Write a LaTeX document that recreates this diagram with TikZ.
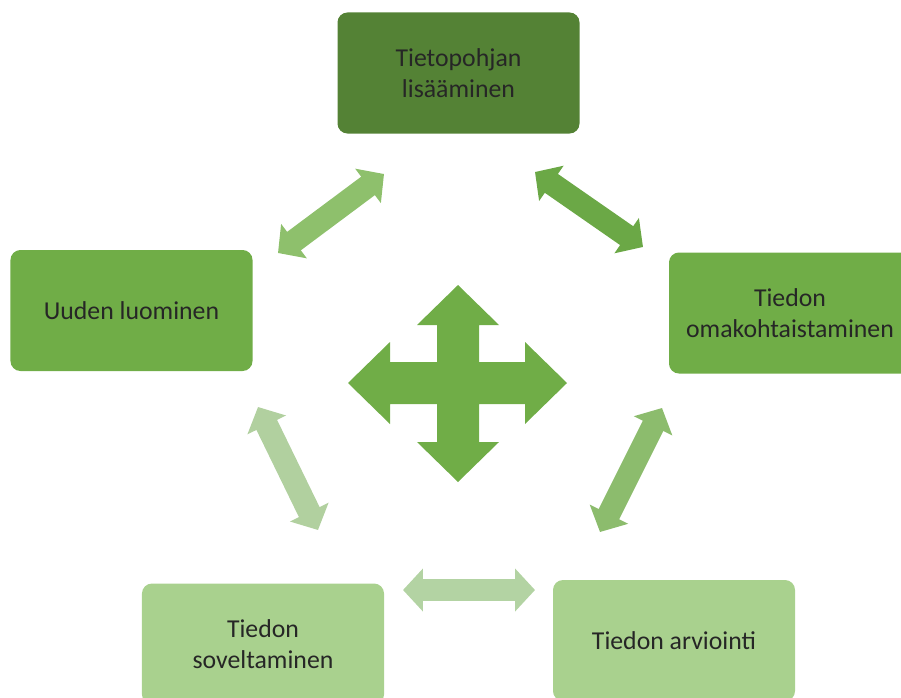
\documentclass[tikz,border=0pt]{standalone}
\usepackage{fontspec}
\setmainfont{Carlito}
\usepackage{xcolor}
\usepackage{tikz}
\usetikzlibrary{arrows.meta}

\definecolor{vihrea1}{HTML}{548235}
\definecolor{vihrea2}{HTML}{70AD47}
\definecolor{vihrea3}{HTML}{A9D18E}
\definecolor{nuoli1}{HTML}{8EC06C}
\definecolor{nuoli2}{HTML}{6BA846}
\definecolor{nuoli3}{HTML}{8CBC6D}
\definecolor{nuoli4}{HTML}{B3D3A3}
\definecolor{nuoli5}{HTML}{B1D09F}

\begin{document}
\begin{tikzpicture}[x=0.03cm,y=-0.03cm,
	laatikko/.style={rectangle,rounded corners=8.5pt,minimum width=7.26cm,minimum height=3.63cm,
		inner sep=0pt,align=center,text=black!85,font={\fontsize{22}{27}\selectfont}},
	nuoli/.style={line width=19.6pt,{Triangle[width=35.7pt,length=17pt]}-{Triangle[width=35.7pt,length=17pt]}}]
	\useasboundingbox (0,0) rectangle (901,697);
	
	% vaiheet
	\foreach \nimi/\x/\y/\vari/\teksti in {tieto/458.5/73/vihrea1/{Tietopohjan\\lisääminen},
		omak/790/313/vihrea2/{Tiedon\\omakohtaistaminen},
		arvi/674/640.5/vihrea3/{Tiedon arviointi},
		sovel/263/644/vihrea3/{Tiedon\\soveltaminen},
		uusi/131.5/310.5/vihrea2/{Uuden luominen}}{
		\node[laatikko,fill=\vari] (\nimi) at (\x,\y) {\teksti};
	}
	
	% nuolten päät
	\foreach \i/\ax/\ay/\bx/\by in {1/278/253/384/174, 2/535/172/643/247, 3/662/408/600/532,
		4/403/590/535/590, 5/318/530/258/407}{
		\coordinate (a\i) at (\ax,\ay);
		\coordinate (b\i) at (\bx,\by);
	}
	
	\foreach \i in {1,2,3,4,5}{
		\draw[nuoli,color=nuoli\i] (a\i) -- (b\i);}
	
	% keskinuoli
	\fill[vihrea2,shift={(458,383)}] (0,-98) -- (41,-58) -- (21,-58) -- (21,-21) -- (67,-21) -- (67,-41)
		-- (109,0) -- (67,41) -- (67,21) -- (21,21) -- (21,59) -- (41,59) -- (0,99) -- (-41,59)
		-- (-21,59) -- (-21,21) -- (-68,21) -- (-68,41) -- (-110,0) -- (-68,-41) -- (-68,-21)
		-- (-21,-21) -- (-21,-58) -- (-41,-58) -- cycle;
\end{tikzpicture}
\end{document}
